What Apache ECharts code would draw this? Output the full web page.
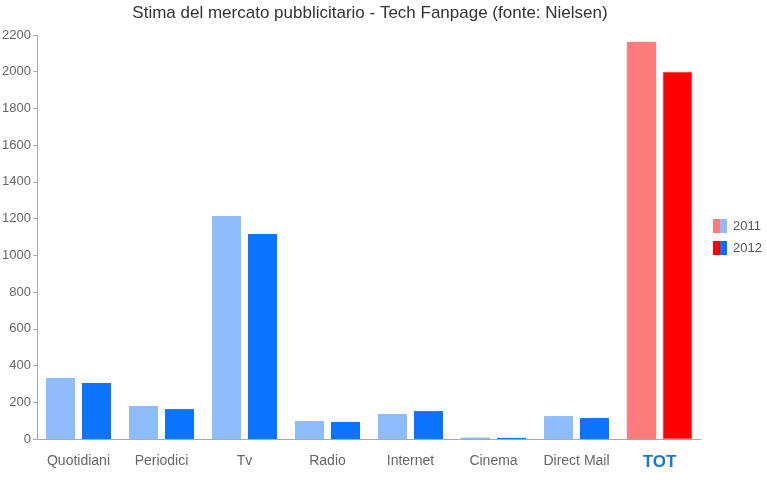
<!DOCTYPE html>
<html><head><meta charset="utf-8">
<script src="https://cdn.jsdelivr.net/npm/echarts@6/dist/echarts.min.js"></script>
<style>html,body{margin:0;padding:0;background:#fff}#c{width:767px;height:503px}</style>
</head><body><div id="c"></div>
<script>
var categories = ['Quotidiani','Periodici','Tv','Radio','Internet','Cinema','Direct Mail','TOT'];
var values2011 = [332, 180, 1215, 98, 136, 8, 125, 2162];
var values2012 = [305, 163, 1117, 93, 152, 6, 114, 1999];
var yTicks = [0, 200, 400, 600, 800, 1000, 1200, 1400, 1600, 1800, 2000, 2200];

var c2011 = '#8fbcfd', c2012 = '#0a74ff', t2011 = '#ff7b7b', t2012 = '#ff0000';
function split(a, b) {
  return {type:'linear', x:0, y:0, x2:1, y2:0, colorStops:[
    {offset:0, color:a},{offset:0.5, color:a},{offset:0.5, color:b},{offset:1, color:b}]};
}
function items(vals, base, tot) {
  return vals.map(function(v, i){
    return i === vals.length - 1 ? {value:v, itemStyle:{color:tot, borderColor:'#e05a5a', borderWidth:0.5}} : {value:v, itemStyle:{color:base}};
  });
}
var chart = echarts.init(document.getElementById('c'), null, {renderer:'canvas'});
chart.setOption({
  animation:false,
  backgroundColor:'#fff',
  textStyle:{fontFamily:'Liberation Sans, Arial, sans-serif'},
  title:{text:'Stima del mercato pubblicitario - Tech Fanpage (fonte: Nielsen)', left:365, textAlign:'center', top:0,
    textStyle:{fontSize:17, fontWeight:'normal', color:'#333', fontFamily:'Liberation Sans, Arial, sans-serif'}},
  legend:{orient:'vertical', left:713, top:219, padding:0, itemWidth:14, itemHeight:14, itemGap:8,
    textStyle:{fontSize:13, color:'#555', padding:[0,0,0,1]}, icon:'rect',
    data:[{name:'2011', itemStyle:{color:split(t2011, c2011)}}, {name:'2012', itemStyle:{color:split(t2012, c2012)}}]},
  grid:{left:37, right:66, top:35, bottom:64, containLabel:false, outerBoundsMode:'none'},
  xAxis:{type:'category', data:categories, boundaryGap:true,
    axisLine:{lineStyle:{color:'#aaa'}},
    axisTick:{alignWithLabel:true, length:6, lineStyle:{color:'#aaa'}},
    axisLabel:{fontSize:14, color:'#666', margin:15, interval:0,
      formatter:function(v){ return v === 'TOT' ? '{t|' + v + '}' : v; },
      rich:{t:{fontSize:17, fontWeight:'bold', color:'#1a73e8'}}}},
  yAxis:{type:'value', min:0, max:2200, interval:200,
    axisLine:{show:true, lineStyle:{color:'#aaa'}},
    axisTick:{show:true, length:4, lineStyle:{color:'#aaa'}},
    splitLine:{show:false},
    axisLabel:{fontSize:13, color:'#666', margin:6, formatter:function(v){ return String(v); }}},
  series:[
    {name:'2011', type:'bar', barWidth:29, barGap:'24%', data:items(values2011, c2011, t2011)},
    {name:'2012', type:'bar', barWidth:29, data:items(values2012, c2012, t2012)}
  ]
});
</script></body></html>
